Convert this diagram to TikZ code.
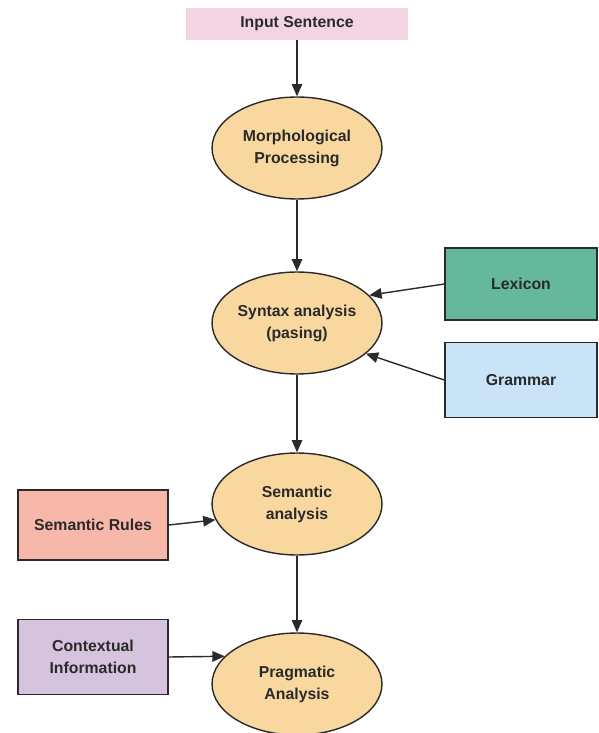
\documentclass[tikz,border=0pt]{standalone}
\usepackage{fontspec}
\setmainfont{Liberation Sans}
\usetikzlibrary{shapes.geometric, arrows.meta}

\definecolor{stagefill}{HTML}{F9D8A0}
\definecolor{inputfill}{HTML}{F3D4E2}
\definecolor{lexiconfill}{HTML}{65B89C}
\definecolor{grammarfill}{HTML}{C9E3F7}
\definecolor{rulesfill}{HTML}{F7B8AA}
\definecolor{contextfill}{HTML}{D6C3DE}
\definecolor{linecol}{HTML}{2A2A2A}

\tikzset{
    stage/.style={draw=linecol, thick, ellipse, fill=stagefill, minimum width=3.4cm,
        minimum height=2.04cm, inner sep=0pt, align=center},
    source/.style={draw=linecol, thick, fill=#1, minimum width=3.04cm, align=center},
    flow/.style={-{Triangle[length=7pt, width=6pt]}, thick, draw=linecol}
}

\begin{document}
\begin{tikzpicture}[x=0.02cm, y=-0.02cm, font=\fontsize{9}{12.5}\selectfont\bfseries, text=linecol]

\useasboundingbox (0, 0) rectangle (598, 733);

% input
\node[fill=inputfill, minimum width=4.46cm, minimum height=0.64cm] (input) at (297, 24) {Input Sentence};

% processing stages
\node[stage] (morph) at (297, 148) {Morphological\\Processing};
\node[stage] (syntax) at (297, 323) {Syntax analysis\\(pasing)};
\node[stage] (semantic) at (297, 504) {Semantic\\analysis};
\node[stage] (pragmatic) at (297, 684) {Pragmatic\\Analysis};

% knowledge sources
\node[source=lexiconfill, minimum height=1.44cm] (lexicon) at (521, 284) {Lexicon};
\node[source=grammarfill, minimum height=1.5cm] (grammar) at (521, 380) {Grammar};
\node[source=rulesfill, minimum width=3cm, minimum height=1.4cm] (rules) at (93, 525) {Semantic Rules};
\node[source=contextfill, minimum width=3cm, minimum height=1.5cm] (context) at (93, 657) {Contextual\\Information};

% connect the stages
\draw[flow] (input.south) -- (morph.north);
\draw[flow] (morph.south) -- (syntax.north);
\draw[flow] (syntax.south) -- (semantic.north);
\draw[flow] (semantic.south) -- (pragmatic.north);

% connect the sources with the stages
\draw[flow] (lexicon.west) -- (syntax.21);
\draw[flow] (grammar.west) -- (syntax.-24);
\draw[flow] (rules.east) -- (semantic.191);
\draw[flow] (context.east) -- (pragmatic.159);

\end{tikzpicture}
\end{document}
